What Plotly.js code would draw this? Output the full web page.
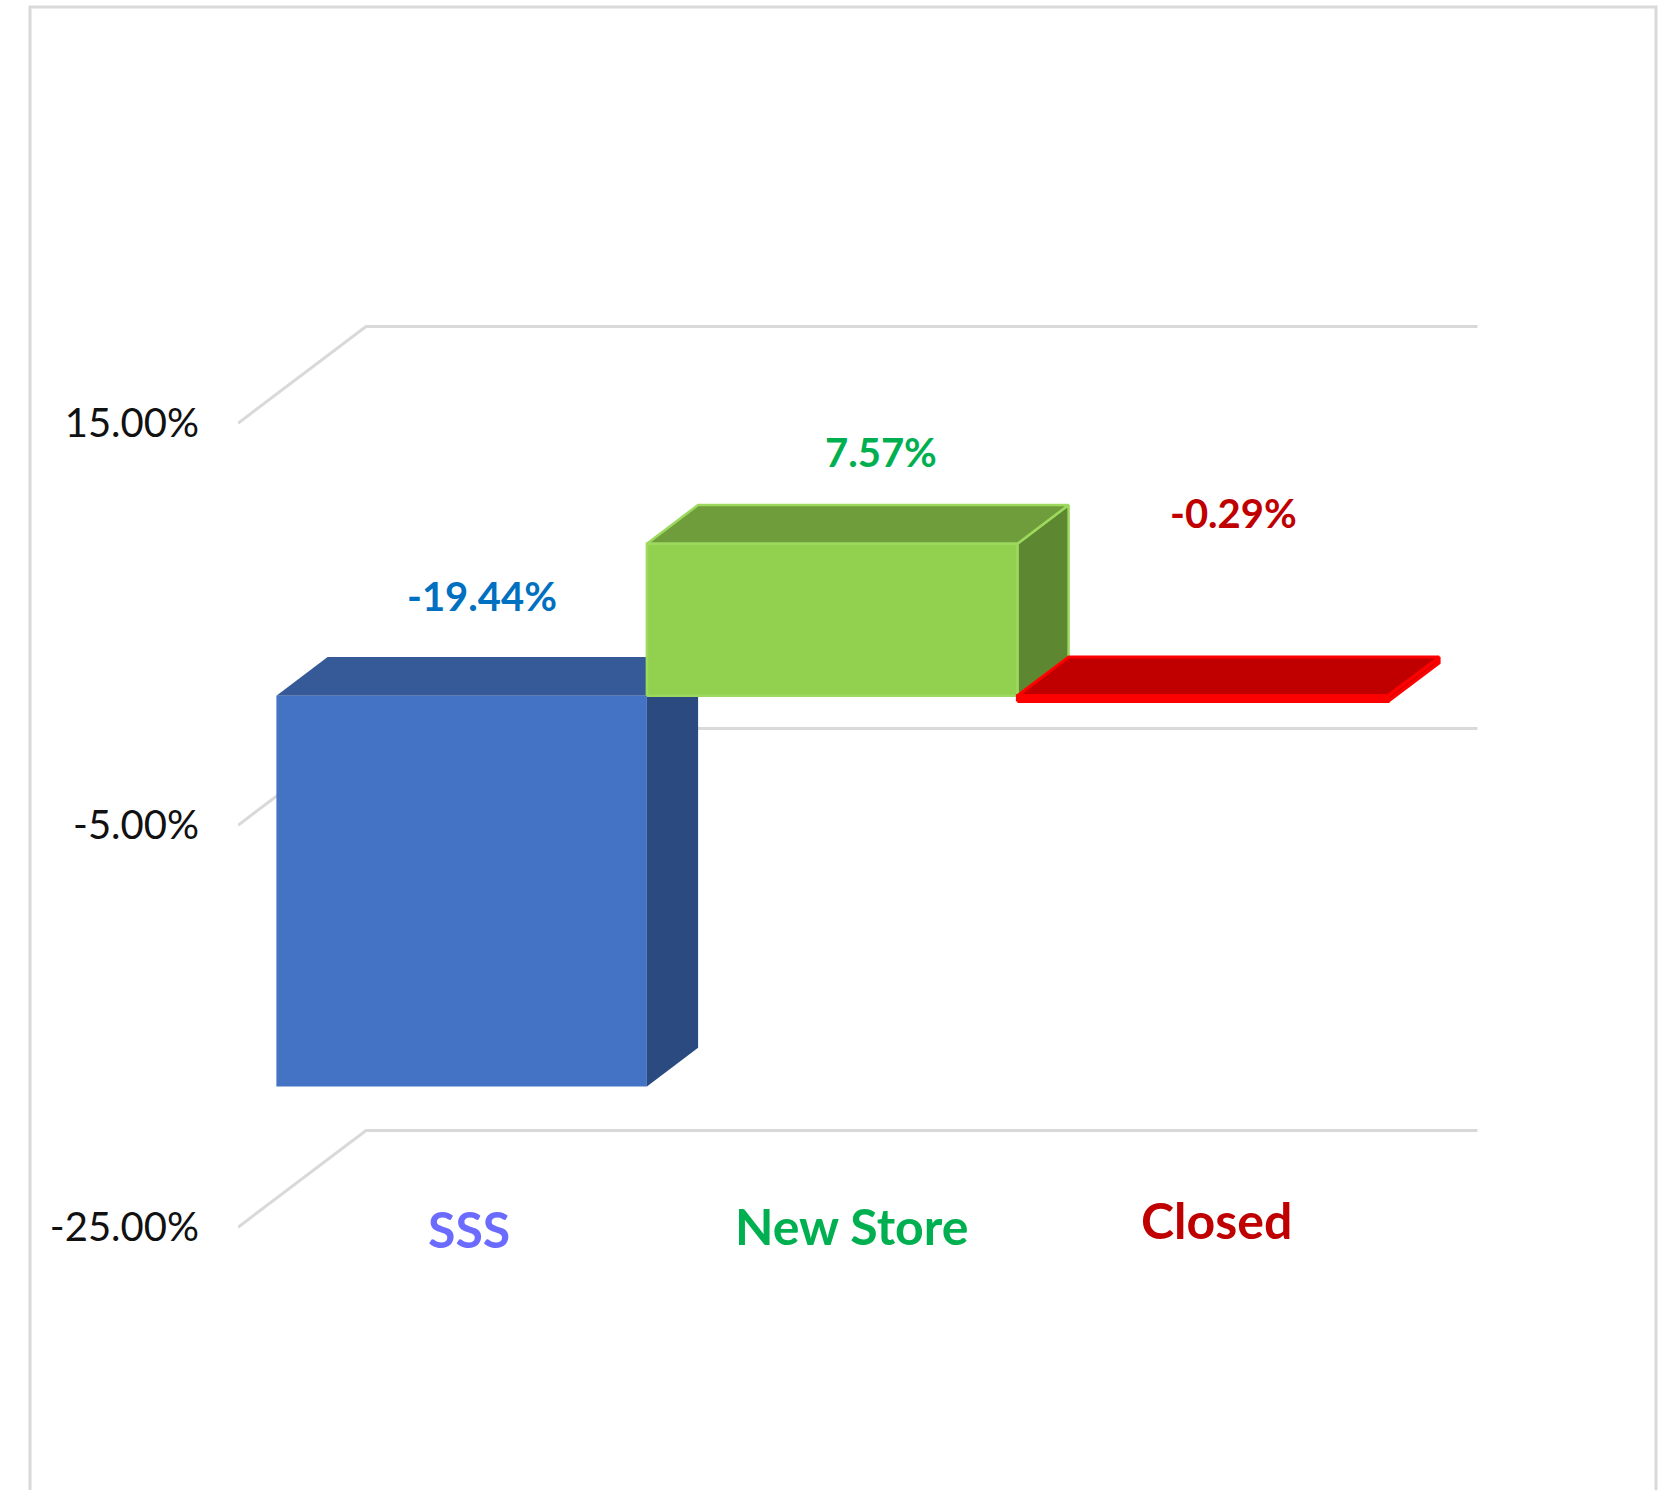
<!DOCTYPE html>
<html><head><meta charset="utf-8">
<script src="https://cdn.plot.ly/plotly-3.0.1.min.js"></script>
<style>html,body{margin:0;padding:0;background:#fff;}#chart{width:1669px;height:1490px;}</style>
</head><body><div id="chart"></div>
<script>
// ---- data ----
const categories = ['SSS', 'New Store', 'Closed'];
const values = [-19.44, 7.57, -0.29];
const valueLabels = ['-19.44%', '7.57%', '-0.29%'];
const tickValues = [-25, -5, 15];
const tickLabels = ['-25.00%', '-5.00%', '15.00%'];

// ---- geometry / style config ----
const W = 1669, H = 1490, ML = 238;
const plotW = W - ML;
const pxPerCat = 370.5, pxPerPct = 20.1, zeroPx = 724.8;
const depthX = 128 / pxPerCat, depthY = 96.7 / pxPerPct;
const f0 = 0.3, f1 = 0.7;
const xRange = [0, plotW / pxPerCat];
const yRange = [(zeroPx - H) / pxPerPct, zeroPx / pxPerPct];

const faceStyles = [
  {front: '#4472C4', top: '#355A97', side: '#2B4A7F', line: 'rgba(0,0,0,0)', lw: 0},
  {front: '#92D050', top: '#6F9D3B', side: '#5E8732', line: '#9CD95E', lw: 2.5},
  {front: '#FF0000', top: '#C00000', side: '#E00000', line: '#FF0000', lw: 3}
];
const valueLabelColors = ['#0070C0', '#00B050', '#C00000'];
const catLabelColors = ['#6B6BFF', '#00B050', '#C00000'];
const valueLabelPos = [[0.6586, 6.41], [1.7363, 13.55], [2.6856, 10.54]];
const catLabelPos = [[0.6246, -25.10], [1.6559, -24.94], [2.6413, -24.63]];
const gridColor = '#D9D9D9';

const traces = [];
// gridlines: side wall + back wall
tickValues.forEach(t => {
  traces.push({
    type: 'scatter', mode: 'lines', hoverinfo: 'skip', showlegend: false,
    x: [0, depthX, categories.length + depthX],
    y: [t, t + depthY, t + depthY],
    line: {color: gridColor, width: 3}
  });
});

function poly(xs, ys, fill, st) {
  traces.push({
    type: 'scatter', mode: 'lines', fill: 'toself', fillcolor: fill,
    hoverinfo: 'skip', showlegend: false,
    x: xs.concat([xs[0]]), y: ys.concat([ys[0]]),
    line: {color: st.line, width: st.lw}
  });
}

values.forEach((v, i) => {
  const st = faceStyles[i];
  const lo = Math.min(0, v), hi = Math.max(0, v);
  const xl = i, xr = i + 1;
  const ax = f0 * depthX, ay = f0 * depthY, bx = f1 * depthX, by = f1 * depthY;
  // side
  poly([xr + ax, xr + bx, xr + bx, xr + ax], [lo + ay, lo + by, hi + by, hi + ay], st.side, st);
  // top
  poly([xl + ax, xr + ax, xr + bx, xl + bx], [hi + ay, hi + ay, hi + by, hi + by], st.top, st);
  // front
  poly([xl + ax, xr + ax, xr + ax, xl + ax], [lo + ay, lo + ay, hi + ay, hi + ay], st.front, st);
});

const annotations = [];
valueLabels.forEach((t, i) => {
  annotations.push({
    x: valueLabelPos[i][0], y: valueLabelPos[i][1], xref: 'x', yref: 'y',
    text: '<b>' + t + '</b>', showarrow: false, xanchor: 'center', yanchor: 'middle',
    font: {family: 'Lato', size: 40, color: valueLabelColors[i]}
  });
});
categories.forEach((c, i) => {
  annotations.push({
    x: catLabelPos[i][0], y: catLabelPos[i][1], xref: 'x', yref: 'y',
    text: '<b>' + c + '</b>', showarrow: false, xanchor: 'center', yanchor: 'middle',
    font: {family: 'Lato', size: 50, color: catLabelColors[i]}
  });
});

const layout = {
  width: W, height: H,
  margin: {l: ML, r: 0, t: 0, b: 0, pad: 0},
  paper_bgcolor: '#fff', plot_bgcolor: '#fff',
  showlegend: false,
  xaxis: {range: xRange, visible: false, fixedrange: true},
  yaxis: {
    range: yRange, showgrid: false, zeroline: false, showline: false,
    tickvals: tickValues, ticktext: tickLabels, ticks: '', automargin: false,
    ticklabelstandoff: 38, fixedrange: true,
    tickfont: {family: 'Lato', size: 40, color: '#111'}
  },
  annotations: annotations,
  shapes: [{
    type: 'rect', xref: 'paper', yref: 'paper', layer: 'above',
    x0: (30 - ML) / plotW, x1: (1656 - ML) / plotW,
    y0: -0.05, y1: (H - 7) / H,
    line: {color: gridColor, width: 3}, fillcolor: 'rgba(0,0,0,0)'
  }]
};

Plotly.newPlot('chart', traces, layout, {displayModeBar: false, staticPlot: true});
</script>
</body></html>
